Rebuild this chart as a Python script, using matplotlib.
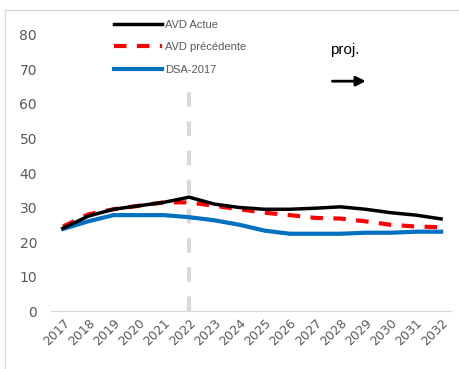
import numpy as np
import matplotlib.pyplot as plt
from matplotlib.lines import Line2D

years = list(range(2017, 2033))
avd_actue = [24.0, 27.5, 29.5, 30.5, 31.5, 33.0, 31.0, 30.0, 29.5, 29.5, 29.8, 30.2, 29.5, 28.5, 27.8, 26.7]
avd_prec = [24.5, 28.0, 29.5, 30.5, 31.5, 31.5, 30.5, 29.5, 28.5, 27.8, 27.0, 26.8, 26.0, 25.0, 24.5, 24.3]
dsa_2017 = [23.8, 26.0, 27.8, 27.8, 27.8, 27.2, 26.3, 25.0, 23.3, 22.4, 22.4, 22.4, 22.7, 22.7, 23.0, 23.0]
y_ticks = [0, 10, 20, 30, 40, 50, 60, 70, 80]

grey = '#595959'

fig = plt.figure(figsize=(4.59, 3.69), dpi=100)
ax = fig.add_axes([0.111, 0.157, 0.872, 0.795])

# bordure du graphique
fig.add_artist(Line2D([0.011, 0.011], [0.0, 0.973], color='#d9d9d9', lw=1))
fig.add_artist(Line2D([0.011, 1.0], [0.973, 0.973], color='#d9d9d9', lw=1))

ax.axvline(2022, ymin=0, ymax=226 / 293, color='#d9d9d9', lw=3, dashes=(3.5, 3.5))
ax.plot(years, dsa_2017, color='#0070c0', lw=3, label='DSA-2017')
ax.plot(years, avd_prec, color='#ff0000', lw=3, dashes=(3, 2.5), label='AVD précédente')
ax.plot(years, avd_actue, color='black', lw=2.5, label='AVD Actue')

ax.set_xlim(2016.52, 2032.4)
ax.set_ylim(0, 85)
ax.set_yticks(y_ticks)
ax.set_xticks(years)
ax.set_xticklabels([str(y) for y in years], rotation=45, ha='right', rotation_mode='anchor')
ax.tick_params(axis='x', length=0, labelsize=9, labelcolor=grey, pad=4)
ax.tick_params(axis='y', length=0, labelsize=10, labelcolor=grey, pad=10)
for s in ['top', 'right', 'left']:
    ax.spines[s].set_visible(False)
ax.spines['bottom'].set_color('#d9d9d9')

# légende
handles = [Line2D([], [], color='black', lw=2.5),
           Line2D([], [], color='#ff0000', lw=3, dashes=(3, 2.5)),
           Line2D([], [], color='#0070c0', lw=3)]
labels = ['AVD Actue', 'AVD précédente', 'DSA-2017']
fig.legend(handles, labels, loc='upper left', bbox_to_anchor=(0.237, 0.962),
           frameon=False, labelcolor=grey, handlelength=4.3,
           handletextpad=0.3, labelspacing=1.15, borderpad=0,
           prop={'family': 'Liberation Sans', 'size': 8})

fig.text(0.718, 0.855, 'proj.', fontsize=11, family='Liberation Sans', color='black')
ax.annotate('', xy=(0.803, 0.78), xytext=(0.718, 0.78), xycoords='figure fraction',
            arrowprops=dict(arrowstyle='-|>', color='black', lw=2, mutation_scale=14))

fig.savefig('out.png', dpi=100)
